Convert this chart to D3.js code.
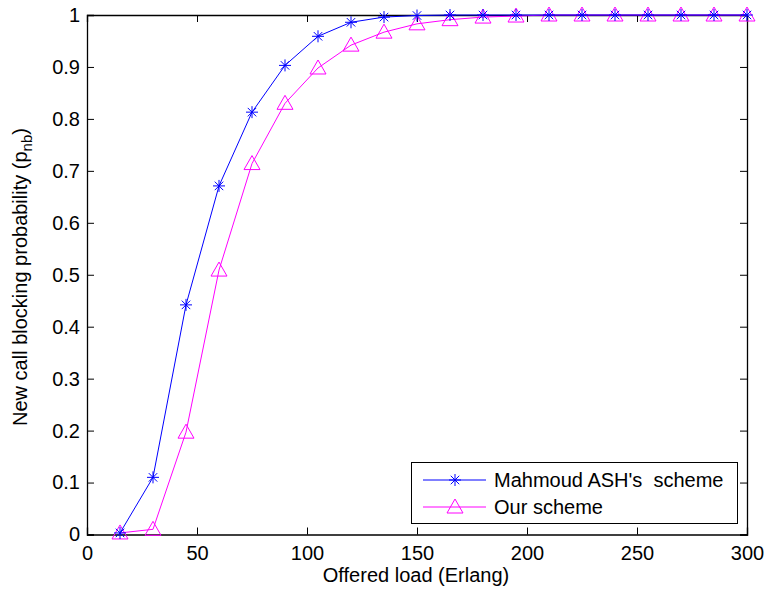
<!DOCTYPE html>
<html>
<head>
<meta charset="utf-8">
<script src="https://cdn.jsdelivr.net/npm/d3@7"></script>
<style>
  body { margin: 0; background: #fff; }
  text { font-family: "Liberation Sans", Arial, sans-serif; }
</style>
</head>
<body>
<script>
const loads = [15, 30, 45, 60, 75, 90, 105, 120, 135, 150, 165, 180, 195, 210, 225, 240, 255, 270, 285, 300];
const mahmoud = [0.003, 0.11, 0.442, 0.671, 0.813, 0.903, 0.959, 0.986, 0.996, 0.999, 1, 1, 1, 1, 1, 1, 1, 1, 1, 1];
const ours = [0.003, 0.01, 0.197, 0.509, 0.714, 0.83, 0.898, 0.942, 0.967, 0.983, 0.991, 0.996, 0.998, 1, 1, 1, 1, 1, 1, 1];
const xTicks = [0, 50, 100, 150, 200, 250, 300];
const yTicks = [0, 0.1, 0.2, 0.3, 0.4, 0.5, 0.6, 0.7, 0.8, 0.9, 1];
const seriesNames = ["Mahmoud ASH's  scheme", "Our scheme"];

const width = 766, height = 595;
const mLeft = 87, mRight = 747, mTop = 15, mBottom = 534.5;
const fs = 20;

const svg = d3.select('body').append('svg')
  .attr('width', width)
  .attr('height', height);

const x = d3.scaleLinear().domain([0, 300]).range([mLeft, mRight]);
const y = d3.scaleLinear().domain([0, 1]).range([mBottom, mTop]);

// axes, ticks pointing inward, MATLAB box style
const fmt = d => d3.format('~g')(d);
svg.append('g').attr('transform', `translate(0,${mBottom})`)
  .call(d3.axisBottom(x).tickValues(xTicks).tickSize(-7).tickPadding(11).tickFormat(fmt));
svg.append('g').attr('transform', `translate(0,${mTop})`)
  .call(d3.axisTop(x).tickValues(xTicks).tickSize(-7).tickFormat(''));
svg.append('g').attr('transform', `translate(${mLeft},0)`)
  .call(d3.axisLeft(y).tickValues(yTicks).tickSize(-7).tickPadding(7).tickFormat(fmt));
svg.append('g').attr('transform', `translate(${mRight},0)`)
  .call(d3.axisRight(y).tickValues(yTicks).tickSize(-7).tickFormat(''));

svg.selectAll('.domain').attr('stroke', '#000').attr('stroke-width', 1.3);
svg.selectAll('.tick line').attr('stroke', '#000');
svg.selectAll('.tick text').attr('font-size', fs).attr('fill', '#000')
  .style('font-family', '"Liberation Sans", Arial, sans-serif');

const line = d3.line().x(d => x(d[0])).y(d => y(d[1]));

function asterisk(g, cx, cy, r, color) {
  const p = g.append('g').attr('transform', `translate(${cx},${cy})`)
    .attr('stroke', color).attr('stroke-width', 1);
  [0, 45, 90, 135].forEach(a => {
    const t = a * Math.PI / 180;
    p.append('line')
      .attr('x1', -r * Math.cos(t)).attr('y1', -r * Math.sin(t))
      .attr('x2', r * Math.cos(t)).attr('y2', r * Math.sin(t));
  });
}
function triangle(g, cx, cy, r, color) {
  g.append('path')
    .attr('d', `M${cx},${cy - r} L${cx + r},${cy + r * 0.75} L${cx - r},${cy + r * 0.75} Z`)
    .attr('fill', 'none').attr('stroke', color).attr('stroke-width', 1);
}

const oursData = loads.map((l, i) => [l, ours[i]]);
const mahData = loads.map((l, i) => [l, mahmoud[i]]);

const gO = svg.append('g');
gO.append('path').datum(oursData).attr('d', line)
  .attr('fill', 'none').attr('stroke', '#ff00ff').attr('stroke-width', 1);
oursData.forEach(d => triangle(gO, x(d[0]), y(d[1]), 8, '#ff00ff'));

const gM = svg.append('g');
gM.append('path').datum(mahData).attr('d', line)
  .attr('fill', 'none').attr('stroke', '#0000ff').attr('stroke-width', 1);
mahData.forEach(d => asterisk(gM, x(d[0]), y(d[1]), 6, '#0000ff'));

// axis titles
svg.append('text').attr('x', 416).attr('y', 582)
  .attr('text-anchor', 'middle').attr('font-size', fs).text('Offered load (Erlang)');

const yl = svg.append('text')
  .attr('transform', `translate(27,277) rotate(-90)`)
  .attr('text-anchor', 'middle').attr('font-size', fs);
yl.append('tspan').text('New call blocking probability (p');
yl.append('tspan').attr('dy', 5).attr('font-size', 15).text('nb');
yl.append('tspan').attr('dy', -5).text(')');

// legend
const lg = svg.append('g');
lg.append('rect').attr('x', 411.5).attr('y', 462.5).attr('width', 326).attr('height', 61)
  .attr('fill', '#fff').attr('stroke', '#000').attr('stroke-width', 1);
const rows = [480, 507];
lg.append('line').attr('x1', 423).attr('x2', 486).attr('y1', rows[0]).attr('y2', rows[0])
  .attr('stroke', '#0000ff');
asterisk(lg, 455, rows[0], 6, '#0000ff');
lg.append('line').attr('x1', 423).attr('x2', 486).attr('y1', rows[1]).attr('y2', rows[1])
  .attr('stroke', '#ff00ff');
triangle(lg, 455, rows[1], 8, '#ff00ff');
seriesNames.forEach((n, i) => {
  lg.append('text').attr('x', 494).attr('y', rows[i] + 7).attr('font-size', fs)
    .attr('xml:space', 'preserve').style('white-space', 'pre').text(n);
});
</script>
</body>
</html>
